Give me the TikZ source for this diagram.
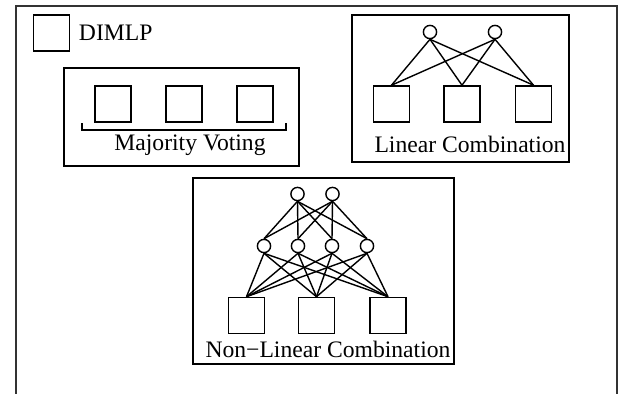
\documentclass[tikz,border=0pt]{standalone}
\usepackage{fontspec}
\setmainfont{Liberation Serif}
\usepackage{tikz}
\usetikzlibrary{positioning}
\tikzset{
  unitbox/.style={rectangle, draw=black, line width=1.1pt, minimum size=0.9cm, inner sep=0pt},
  neuron/.style={circle, draw=black, line width=1pt, minimum size=0.33cm, inner sep=0pt},
  groupbox/.style={rectangle, draw=black, line width=1.3pt, inner sep=0pt},
  label/.style={font=\fontsize{16.8}{18}\selectfont, inner sep=0pt},
  link/.style={line width=1pt}
}

\begin{document}
\begin{tikzpicture}[x=0.025cm, y=-0.025cm]
  \useasboundingbox (0,0) rectangle (618,394);
  % outer frame, open at the bottom
  \draw[black!80, line width=0.9pt] (16,394) |- (617,6) -- (617,394);
  \node[unitbox] (dimlp) at (51.5,33) {};
  \node[label, anchor=west, right=6pt of dimlp] (dimlptxt) {DIMLP};

  % majority voting
  \node[groupbox, minimum width=5.875cm, minimum height=2.45cm] (mv) at (181.5,117) {};
  \node[unitbox] (mv1) at (113,104) {};
  \node[unitbox] (mv2) at (184,104) {};
  \node[unitbox] (mv3) at (255,104) {};
  \draw[link] (82,123) -- (82,130) -- (286,130) -- (286,123);
  \node[label] (mvtxt) at (190,145) {Majority Voting};

  % linear combination
  \node[groupbox, minimum width=5.425cm, minimum height=3.675cm] (lc) at (460.5,88.5) {};
  \node[neuron] (lh1) at (430,32) {};
  \node[neuron] (lh2) at (495,32) {};
  \node[unitbox] (lc1) at (391.5,104) {};
  \node[unitbox] (lc2) at (462,104) {};
  \node[unitbox] (lc3) at (533.5,104) {};
  \foreach \h in {1,2}
    \foreach \s in {1,2,3}
      \draw[link] (lh\h.south) -- (lc\s.north);
  \node[label] (lctxt) at (470,144) {Linear Combination};

  % non-linear combination
  \node[groupbox, minimum width=6.525cm, minimum height=4.65cm] (nl) at (323.5,271) {};
  \node[neuron] (nt1) at (297.5,194) {};
  \node[neuron] (nt2) at (332.5,194) {};
  \node[neuron] (nm1) at (264,246) {};
  \node[neuron] (nm2) at (298,246) {};
  \node[neuron] (nm3) at (332,246) {};
  \node[neuron] (nm4) at (367,246) {};
  \node[unitbox] (nl1) at (246.5,315.5) {};
  \node[unitbox] (nl2) at (316.5,315.5) {};
  \node[unitbox] (nl3) at (388,315.5) {};
  \foreach \t in {1,2}
    \foreach \m in {1,...,4}
      \draw[link] (nt\t.south) -- (nm\m.north);
  \foreach \m in {1,...,4}
    \foreach \s in {1,2,3}
      \draw[link] (nm\m.south) -- (nl\s.north);
  \node[label] (nltxt) at (328,349) {Non−Linear Combination};
\end{tikzpicture}
\end{document}
